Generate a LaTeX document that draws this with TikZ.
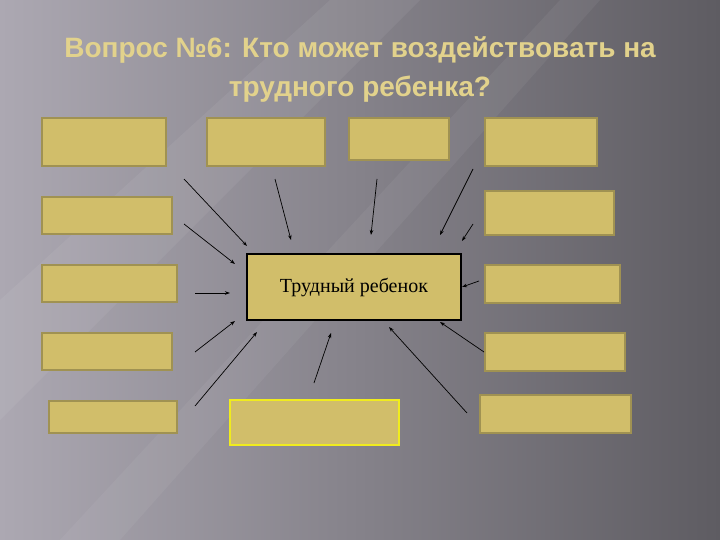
\documentclass[tikz,border=0pt]{standalone}
\usepackage{fontspec}
\setmainfont{Liberation Serif}
\newfontfamily\titlefont{Liberation Sans}
\usetikzlibrary{arrows.meta}
\definecolor{bgl}{RGB}{172,168,178}
\definecolor{bgr}{RGB}{94,92,98}
\definecolor{cardfill}{RGB}{209,190,106}
\definecolor{cardline}{RGB}{160,146,82}
\definecolor{titlecol}{RGB}{226,210,140}
\definecolor{hilite}{RGB}{240,236,30}

\begin{document}
\begin{tikzpicture}
[x=1pt, y=-1pt,
card/.style = {draw=cardline, line width=2pt, fill=cardfill, inner sep=0pt},
hot/.style = {card, draw=hilite},
hub/.style = {draw=black, line width=2pt, fill=cardfill, minimum width=214pt, minimum height=66pt,
font=\fontsize{20}{24}\selectfont},
link/.style = {-{Stealth[length=5pt,width=3.5pt]}, line width=0.7pt, black}]
\useasboundingbox (0,0) rectangle (720,540);
\shade[left color=bgl, right color=bgr] (0,0) rectangle (720,540);
\fill[white, opacity=0.06] (0,300) -- (330,0) -- (420,0) -- (0,420) -- cycle;
\fill[white, opacity=0.05] (60,540) -- (560,0) -- (600,0) -- (120,540) -- cycle;

\node[text=titlecol, font=\titlefont\bfseries\fontsize{28}{39}\selectfont, align=center] (title) at (360,69)
{Вопрос №6: Кто может воздействовать на\\трудного ребенка?};

\node[card, minimum width=124pt, minimum height=48pt] (l1) at (104,142) {};
\node[card, minimum width=130pt, minimum height=37pt] (l2) at (107,215.5) {};
\node[card, minimum width=135pt, minimum height=37pt] (l3) at (109.5,283.5) {};
\node[card, minimum width=130pt, minimum height=37pt] (l4) at (107,351.5) {};
\node[card, minimum width=128pt, minimum height=32pt] (l5) at (113,417) {};
\node[card, minimum width=118pt, minimum height=48pt] (t2) at (266,142) {};
\node[card, minimum width=100pt, minimum height=42pt] (t3) at (399,139) {};
\node[card, minimum width=112pt, minimum height=48pt] (t4) at (541,142) {};
\node[card, minimum width=129pt, minimum height=44pt] (r2) at (549.5,213) {};
\node[card, minimum width=135pt, minimum height=38pt] (r3) at (552.5,284) {};
\node[card, minimum width=140pt, minimum height=38pt] (r4) at (555,352) {};
\node[card, minimum width=151pt, minimum height=38pt] (r5) at (555.5,414) {};
\node[hot, minimum width=169pt, minimum height=45pt] (b1) at (314.5,422.5) {};

\node[hub] (child) at (354,287) {Трудный ребенок};

\coordinate (s1) at (184,179); \coordinate (e1) at (247,246);
\coordinate (s2) at (275,179); \coordinate (e2) at (291,240);
\coordinate (s3) at (377,179); \coordinate (e3) at (371,235);
\coordinate (s4) at (473,169); \coordinate (e4) at (440,235);
\coordinate (s5) at (184,224); \coordinate (e5) at (235,264);
\coordinate (s6) at (473,224); \coordinate (e6) at (462,241);
\coordinate (s7) at (195,293); \coordinate (e7) at (230,293);
\coordinate (s8) at (479,281); \coordinate (e8) at (462,287);
\coordinate (s9) at (195,352); \coordinate (e9) at (235,321);
\coordinate (s10) at (484,352); \coordinate (e10) at (440,322);
\coordinate (s11) at (195,406); \coordinate (e11) at (257,332);
\coordinate (s12) at (314,383); \coordinate (e12) at (331,333);
\coordinate (s13) at (467,413); \coordinate (e13) at (389,327);

\foreach \k in {1,...,13}
\draw[link] (s\k) -- (e\k);

\end{tikzpicture}
\end{document}
